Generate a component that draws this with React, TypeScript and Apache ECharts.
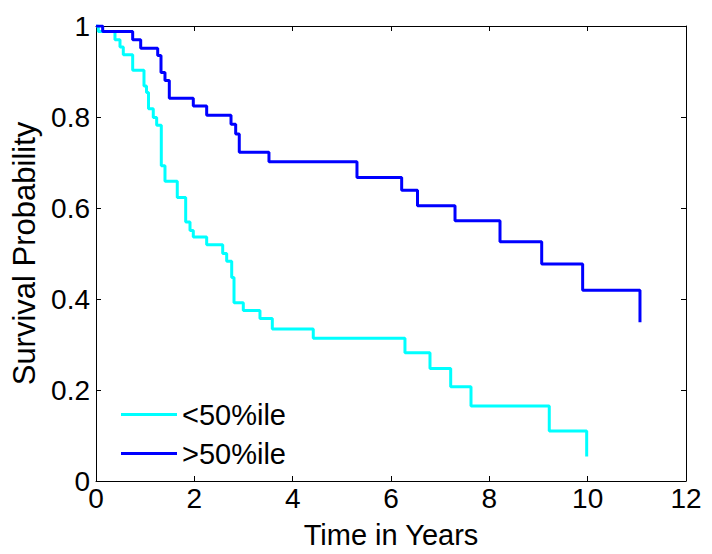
import React, { useEffect, useRef } from "react";
import * as echarts from "echarts";

const lowTimes = [0, 0.047, 0.386, 0.488, 0.555, 0.746, 0.976, 1.027, 1.068, 1.165, 1.234, 1.328, 1.403, 1.653, 1.824, 1.912, 1.979, 2.251, 2.577, 2.658, 2.76, 2.807, 2.996, 3.335, 3.586, 4.419, 6.284, 6.793, 7.214, 7.627, 9.219, 9.98];
const lowSurv = [1, 0.988, 0.97, 0.954, 0.937, 0.903, 0.868, 0.854, 0.818, 0.799, 0.782, 0.693, 0.659, 0.623, 0.569, 0.5505, 0.536, 0.519, 0.5, 0.483, 0.447, 0.392, 0.375, 0.357, 0.334, 0.314, 0.282, 0.247, 0.207, 0.165, 0.11, 0.054];

const highTimes = [0, 0.136, 0.746, 0.909, 1.255, 1.322, 1.403, 1.491, 1.979, 2.251, 2.746, 2.841, 2.914, 3.518, 5.308, 6.217, 6.539, 7.302, 8.217, 9.065, 9.898, 11.064];
const highSurv = [1, 0.988, 0.97, 0.951, 0.935, 0.898, 0.88, 0.841, 0.824, 0.804, 0.784, 0.7625, 0.7226, 0.7015, 0.667, 0.639, 0.605, 0.572, 0.526, 0.477, 0.419, 0.349];

const seriesNames = ["<50%ile", ">50%ile"];
const xTicks = [0, 2, 4, 6, 8, 10, 12];
const yTicks = [0, 0.2, 0.4, 0.6, 0.8, 1];

const FONT = "Liberation Sans, Arial, sans-serif";

export default function App() {
  const ref = useRef<HTMLDivElement>(null);
  useEffect(() => {
    if (!ref.current) return;
    const chart = echarts.init(ref.current, null, { renderer: "svg" });
    const axisCommon = {
      axisLine: { show: true, onZero: false, lineStyle: { color: "#000", width: 1 } },
      axisTick: { show: true, inside: true, length: 5, lineStyle: { color: "#000" } },
      splitLine: { show: false },
    };
    const xMain = {
      type: "value",
      min: xTicks[0],
      max: xTicks[xTicks.length - 1],
      interval: 2,
      ...axisCommon,
      axisLabel: { color: "#000", fontSize: 28, fontFamily: FONT, margin: 3 },
      name: "Time in Years",
      nameLocation: "middle",
      nameGap: 39,
      nameTextStyle: { color: "#000", fontSize: 29, fontFamily: FONT },
    };
    const yMain = {
      type: "value",
      min: yTicks[0],
      max: yTicks[yTicks.length - 1],
      interval: 0.2,
      ...axisCommon,
      axisLabel: { color: "#000", fontSize: 28, fontFamily: FONT, margin: 6 },
      name: "Survival Probability",
      nameLocation: "middle",
      nameGap: 55,
      nameTextStyle: { color: "#000", fontSize: 31, fontFamily: FONT },
    };
    chart.setOption({
      animation: false,
      backgroundColor: "#fff",
      grid: { left: 96, right: 26, top: 26, bottom: 69, containLabel: false },
      legend: {
        orient: "vertical",
        left: 116,
        top: 395,
        icon: "rect",
        itemWidth: 56,
        itemHeight: 3,
        itemGap: 10,
        textStyle: { color: "#000", fontSize: 29, fontFamily: FONT },
        data: seriesNames,
      },
      xAxis: [
        xMain,
        {
          type: "value",
          position: "top",
          min: xTicks[0],
          max: xTicks[xTicks.length - 1],
          interval: 2,
          ...axisCommon,
          axisLabel: { show: false },
        },
      ],
      yAxis: [
        yMain,
        {
          type: "value",
          position: "right",
          min: yTicks[0],
          max: yTicks[yTicks.length - 1],
          interval: 0.2,
          ...axisCommon,
          axisLabel: { show: false },
        },
      ],
      series: [
        {
          name: seriesNames[0],
          type: "line",
          step: "end",
          symbol: "none",
          data: lowTimes.map((t, i) => [t, lowSurv[i]]),
          lineStyle: { color: "#00ffff", width: 3 },
          itemStyle: { color: "#00ffff" },
        },
        {
          name: seriesNames[1],
          type: "line",
          step: "end",
          symbol: "none",
          data: highTimes.map((t, i) => [t, highSurv[i]]),
          lineStyle: { color: "#0000ff", width: 3 },
          itemStyle: { color: "#0000ff" },
        },
      ],
    });
    return () => chart.dispose();
  }, []);
  return <div ref={ref} style={{ width: 712, height: 554, position: "absolute", left: 0, top: 0 }} />;
}
